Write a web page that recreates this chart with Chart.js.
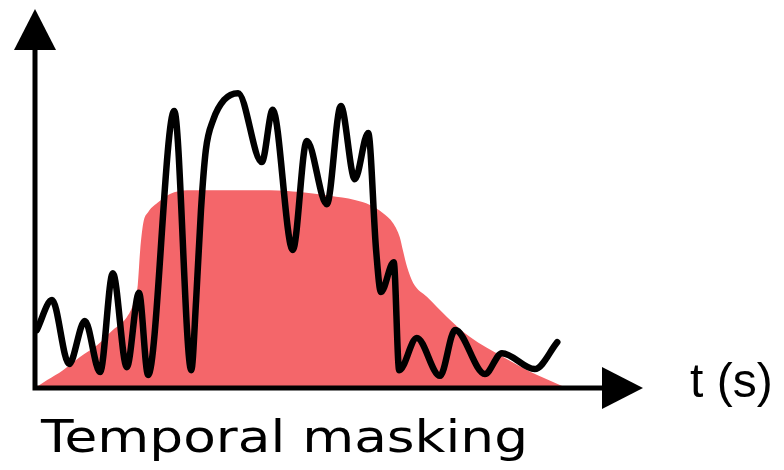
<!DOCTYPE html>
<html>
<head>
<meta charset="utf-8">
<script src="https://cdn.jsdelivr.net/npm/chart.js@4"></script>
<style>
    html, body { margin: 0; padding: 0; background: #fff; }
    #wrap { width: 784px; height: 470px; }
</style>
</head>
<body>
<div id="wrap"><canvas id="maskChart" width="784" height="470"></canvas></div>
<script>
// masker envelope (red area), time vs level, 0-100 on both axes
const maskT = [0, 2.0, 4.6, 7.4, 10.2, 12.8, 15.1, 16.1, 16.9, 17.3, 17.8, 18.6, 20.1, 22.2, 25.0,
    38.7, 43.6, 48.5, 52.6, 55.1, 57.2, 58.9, 60.0, 60.5, 61.2, 62.2, 64.5, 67.8, 71.5, 77.0, 82.6, 86.7, 87.3];
const maskLevel = [0, 2.1, 4.7, 8.2, 11.3, 15.3, 18.7, 21.9, 27.2, 36.4, 43.5, 46.4, 48.8, 51.2, 52.2,
    52.2, 51.7, 50.7, 49.6, 48.3, 46.2, 43.5, 39.8, 36.4, 31.9, 27.7, 24.0, 18.7, 13.5, 8.2, 3.4, 0.5, 0];

// signal (black curve)
const signalT = [0.3, 2.8, 5.6, 8.2, 10.7, 12.8, 15.1, 17.1, 18.6, 22.9, 25.7, 26.5, 27.3, 28.1, 29.3,
    31.1, 33.4, 37.3, 39.1, 42.4, 44.7, 48.0, 50.3, 52.6, 54.8, 56.1, 56.9, 59.0, 59.9, 62.8, 66.6,
    69.1, 74.0, 76.8, 82.2, 85.9];
const signalLevel = [15.3, 23.2, 6.3, 17.7, 4.2, 30.3, 5.5, 25.1, 3.4, 73.1, 4.7, 23.2, 47.0, 62.8, 70.7,
    76.0, 77.8, 59.6, 73.4, 36.4, 65.2, 48.5, 74.4, 55.1, 67.3, 36.4, 25.3, 33.2, 4.7, 13.2, 3.2,
    15.3, 3.7, 9.2, 5.0, 12.1];

const axisLabel = 't (s)';
const caption = 'Temporal masking';

function toPoints(xs, ys) {
    return xs.map((x, i) => ({ x: x, y: ys[i] }));
}

// draws the two arrow axes and the texts
const arrowAxes = {
    id: 'arrowAxes',
    afterDatasetsDraw(chart) {
        const ctx = chart.ctx;
        const xs = chart.scales.x;
        const ys = chart.scales.y;
        const x0 = xs.getPixelForValue(0);
        const y0 = ys.getPixelForValue(0);
        const xTip = xs.getPixelForValue(100);
        const yTip = ys.getPixelForValue(100);
        const head = 41;
        const half = 21;

        ctx.save();
        ctx.strokeStyle = '#000';
        ctx.fillStyle = '#000';
        ctx.lineWidth = 5;

        ctx.beginPath();
        ctx.moveTo(x0, y0 + 2.5);
        ctx.lineTo(x0, yTip + head);
        ctx.moveTo(x0 - 2.5, y0);
        ctx.lineTo(xTip - head, y0);
        ctx.stroke();

        ctx.beginPath();
        ctx.moveTo(x0, yTip);
        ctx.lineTo(x0 - half, yTip + head);
        ctx.lineTo(x0 + half, yTip + head);
        ctx.closePath();
        ctx.fill();

        ctx.beginPath();
        ctx.moveTo(xTip, y0);
        ctx.lineTo(xTip - head, y0 - half);
        ctx.lineTo(xTip - head, y0 + half);
        ctx.closePath();
        ctx.fill();

        ctx.textBaseline = 'alphabetic';
        ctx.textAlign = 'left';
        ctx.font = '48px "Liberation Sans", Arial, sans-serif';
        ctx.fillText(axisLabel, xTip + 47, y0 + 9);

        // caption is drawn wide, as in the picture
        ctx.font = '44px "DejaVu Sans", Verdana, sans-serif';
        const w = ctx.measureText(caption).width;
        ctx.translate(x0 + 6, y0 + 64);
        ctx.scale(487 / w, 1);
        ctx.fillText(caption, 0, 0);
        ctx.restore();
    }
};

const ctx = document.getElementById('maskChart').getContext('2d');
new Chart(ctx, {
    type: 'line',
    data: {
        datasets: [{
            label: 'signal',
            data: toPoints(signalT, signalLevel),
            borderColor: '#000',
            borderWidth: 6.5,
            borderJoinStyle: 'round',
            borderCapStyle: 'round',
            cubicInterpolationMode: 'monotone',
            pointRadius: 0,
            fill: false,
            clip: false,
            order: 0
        }, {
            label: 'masker',
            data: toPoints(maskT, maskLevel),
            borderWidth: 0,
            backgroundColor: '#f4666a',
            cubicInterpolationMode: 'monotone',
            pointRadius: 0,
            fill: 'origin',
            clip: false,
            order: 1
        }]
    },
    options: {
        responsive: false,
        animation: false,
        layout: {
            padding: { left: 35, right: 141, top: 9, bottom: 82 }
        },
        scales: {
            x: { type: 'linear', min: 0, max: 100, display: false },
            y: { min: 0, max: 100, display: false }
        },
        plugins: {
            legend: { display: false },
            tooltip: { enabled: false }
        }
    },
    plugins: [arrowAxes]
});
</script>
</body>
</html>
